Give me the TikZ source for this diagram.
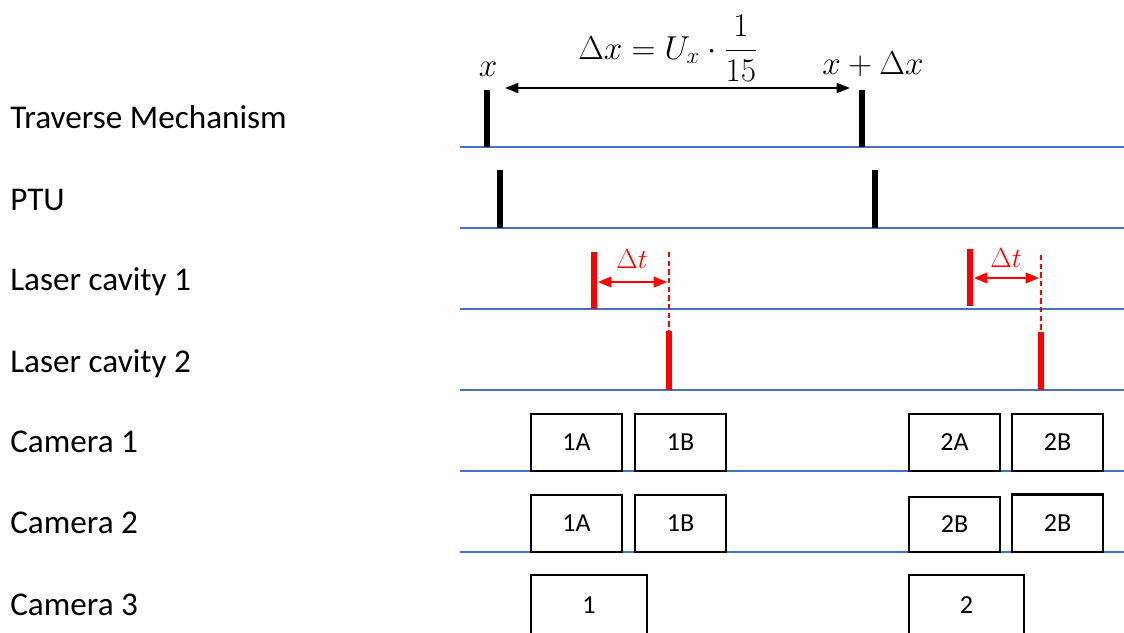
\documentclass[tikz,border=0pt]{standalone}
\usepackage{fontspec}
\setmainfont{Carlito}
\usetikzlibrary{arrows.meta, positioning, calc}
\usepackage{amsmath}
\definecolor{trackBlue}{HTML}{4472C4}
\definecolor{pulseRed}{HTML}{FF0000}
\tikzset{
  track/.style={draw=trackBlue, line width=1.5pt},
  rowlabel/.style={anchor=base west, inner sep=0pt, font=\fontsize{24.9}{30}\selectfont},
  trig/.style={line width=4pt, color=black},
  pulse/.style={line width=4.5pt, color=pulseRed},
  gate/.style={line width=1.5pt, color=pulseRed, dash pattern=on 4pt off 2.5pt},
  span/.style={{Triangle[length=10pt,width=7.5pt]}-{Triangle[length=10pt,width=7.5pt]}, line width=1.5pt},
  delay/.style={{Triangle[length=10pt,width=8pt]}-{Triangle[length=10pt,width=8pt]}, line width=1.5pt, color=pulseRed},
  frame/.style={draw, line width=2.2pt, outer sep=0pt, inner sep=0pt, minimum width=68.25pt,
                minimum height=42.75pt, font=\fontsize{19.5}{23}\selectfont},
  mathlbl/.style={inner sep=0pt, anchor=base, font=\fontsize{24}{29}\selectfont},
}

\begin{document}
\begin{tikzpicture}[x=0.75pt, y=-0.75pt]
\useasboundingbox (0,0) rectangle (1124,632);
\clip (0,0) rectangle (1124,632);

% row labels
\node[rowlabel] (lblTM) at (10,128) {Traverse Mechanism};
\node[rowlabel] (lblPTU) at (10,210) {PTU};
\node[rowlabel] (lblL1) at (10,290) {Laser cavity 1};
\node[rowlabel] (lblL2) at (10,372) {Laser cavity 2};
\node[rowlabel] (lblC1) at (10,452) {Camera 1};
\node[rowlabel] (lblC2) at (10,533) {Camera 2};
\node[rowlabel] (lblC3) at (10,615) {Camera 3};

% time axes
\draw[track] (460,147) -- (1124,147);
\draw[track] (460,228) -- (1124,228);
\draw[track] (460,309) -- (1124,309);
\draw[track] (460,390) -- (1124,390);
\draw[track] (460,471) -- (1124,471);
\draw[track] (460,552) -- (1124,552);

% traverse and PTU triggers
\draw[trig] (487,90) -- (487,147);
\draw[trig] (862,90) -- (862,147);
\draw[trig] (500,170) -- (500,228);
\draw[trig] (875,170) -- (875,228);

% step between positions
\coordinate (spanL) at (505,88);
\coordinate (spanR) at (850,88);
\draw[span] (spanL) -- (spanR);
\node[mathlbl] (posA) at (488,76) {$x$};
\node[mathlbl] (posB) at (873,74) {$x+\Delta x$};
\node[mathlbl, font=\fontsize{26.5}{32}\selectfont] (stepEq) at (668,59) {$\Delta x = U_x\cdot\dfrac{1}{15}$};

% laser pulses, first pair
\draw[pulse] (594,252) -- (594,309);
\draw[gate] (669,252) -- (669,331);
\draw[pulse] (669,331) -- (669,390);
\coordinate (dtA1) at (598,282);
\coordinate (dtA2) at (667,282);
\draw[delay] (dtA1) -- (dtA2);
\node[mathlbl, color=pulseRed, font=\fontsize{22.5}{27}\selectfont] (dtA) at (632,268) {$\Delta t$};

% laser pulses, second pair
\draw[pulse] (970,249) -- (970,306);
\draw[gate] (1041,255) -- (1041,332);
\draw[pulse] (1041,332) -- (1041,390);
\coordinate (dtB1) at (974,278);
\coordinate (dtB2) at (1039,278);
\draw[delay] (dtB1) -- (dtB2);
\node[mathlbl, color=pulseRed, font=\fontsize{22.5}{27}\selectfont] (dtB) at (1006,267) {$\Delta t$};

% camera 1 frames
\node[frame, anchor=south west] (c1a) at (531,471) {1A};
\node[frame, right=9.75pt of c1a] (c1b) {1B};
\node[frame, anchor=south west] (c1c) at (909,471) {2A};
\node[frame, right=9pt of c1c] (c1d) {2B};

% camera 2 frames
\node[frame, anchor=south west] (c2a) at (531,552) {1A};
\node[frame, right=9.75pt of c2a] (c2b) {1B};
\node[frame, anchor=south west, minimum height=41.25pt] (c2c) at (909,552) {2B};
\node[frame, anchor=south west, minimum height=43pt] (c2d) at (1012,552) {2B};

% camera 3 frames
\node[frame, anchor=north west, minimum width=87pt, minimum height=45pt] (c3a) at (531,575) {1};
\node[frame, anchor=north west, minimum width=86.25pt, minimum height=45pt] (c3b) at (909,575) {2};

\end{tikzpicture}
\end{document}
